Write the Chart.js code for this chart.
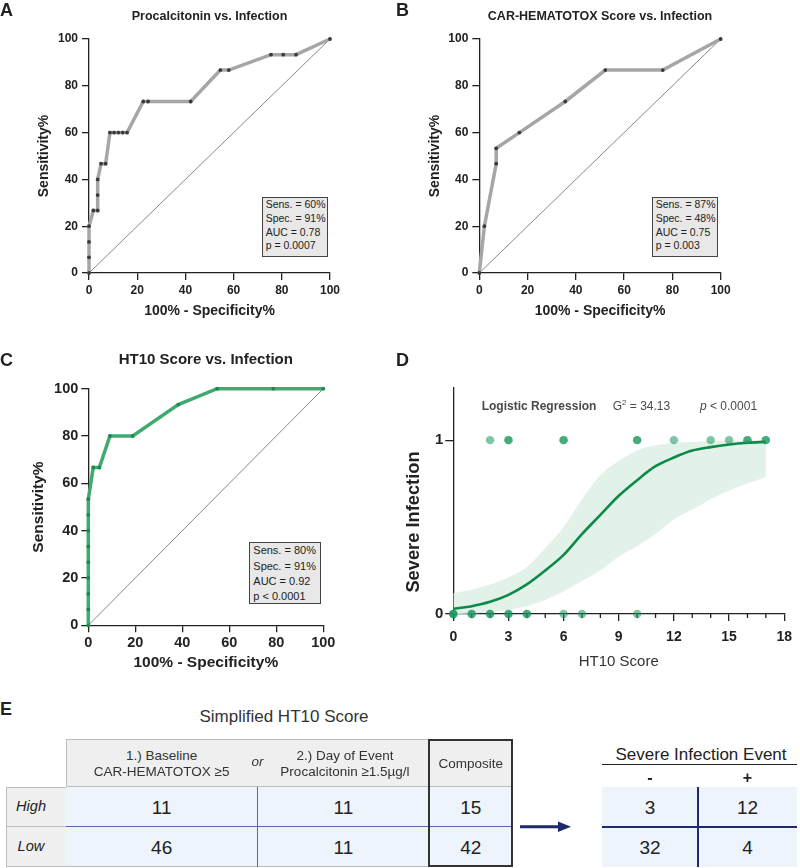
<!DOCTYPE html>
<html><head><meta charset="utf-8">
<script src="https://cdn.jsdelivr.net/npm/chart.js@4.4.1/dist/chart.umd.min.js"></script>
<style>
html,body{margin:0;padding:0;background:#fff;}
body{width:800px;height:868px;position:relative;overflow:hidden;font-family:'Liberation Sans',Arial,Helvetica,sans-serif;color:#222;}
.box{position:absolute;}
canvas{display:block;}
.lett{position:absolute;font-weight:bold;font-size:18px;line-height:18px;}
.stat{position:absolute;background:#e8e8e8;border:1.5px solid #444;box-sizing:border-box;color:#222;white-space:nowrap;padding-left:3px;}
.t{position:absolute;white-space:nowrap;line-height:1;transform:translate(-50%,-50%);}
.cell{position:absolute;box-sizing:border-box;}
</style>
</head>
<body>
<div class="box" style="left:0;top:0;width:400px;height:320px;"><canvas id="cA" width="400" height="320"></canvas></div>
<div class="box" style="left:400px;top:0;width:400px;height:320px;"><canvas id="cB" width="400" height="320"></canvas></div>
<div class="box" style="left:0;top:320px;width:400px;height:353px;"><canvas id="cC" width="400" height="353"></canvas></div>
<div class="box" style="left:400px;top:320px;width:400px;height:353px;"><canvas id="cD" width="400" height="353"></canvas></div>
<div id="overlay"></div>
<script>
// ---------- DATA ----------
const rocAx = [0,0,0,0,1.8,3.6,3.6,3.6,5,6.9,8.7,10.4,12.2,14,15.8,22.5,24.5,42.2,54.5,58,75.5,80.6,85.9,100];
const rocAy = [0,6.7,13.3,20,26.7,26.7,33.3,40,46.7,46.7,60,60,60,60,60,73.3,73.3,73.3,86.7,86.7,93.3,93.3,93.3,100];
const rocBx = [0,2.1,7,7,16.6,35.6,52.2,76,100];
const rocBy = [0,20,46.7,53.3,60,73.3,86.7,86.7,100];
const rocCx = [0,0,0,0,0,0,0,0,0,2.1,4.7,9.2,18.9,38.3,54.8,78.7,100];
const rocCy = [0,6.7,13.3,20,26.7,33.3,40,46.7,53.3,66.7,66.7,80,80,93.3,100,100,100];
const diagX = [0,100];
const diagY = [0,100];
const rocTicks = [0,20,40,60,80,100];
const statsA = ['Sens. = 60%','Spec. = 91%','AUC = 0.78','p = 0.0007'];
const statsB = ['Sens. = 87%','Spec. = 48%','AUC = 0.75','p = 0.003'];
const statsC = ['Sens. = 80%','Spec. = 91%','AUC = 0.92','p < 0.0001'];
const titles = ['Procalcitonin vs. Infection','CAR-HEMATOTOX Score vs. Infection','HT10 Score vs. Infection'];

// Panel D: logistic regression
const ht10Ones  = [2,3,3,6,6,10,10,12,14,15,16,16,17,17];   // events (y = 1); repeats = overlapping patients
const ht10Zeros = [0,0,0,1,1,2,2,3,3,4,4,6,7,10];          // no event (y = 0)
const fitX     = [0,1,2,3,4,5,6,7,8,9,10,11,12,13,14,15,16,17];
const fitY     = [0.03,0.045,0.07,0.11,0.17,0.25,0.34,0.46,0.57,0.68,0.77,0.85,0.90,0.94,0.96,0.975,0.985,0.99];
const ciUpper  = [0.12,0.14,0.17,0.21,0.27,0.38,0.50,0.66,0.80,0.88,0.94,0.97,0.985,0.99,0.995,0.997,0.998,0.999];
const ciLower  = [0,0.003,0.01,0.025,0.045,0.08,0.13,0.19,0.25,0.33,0.39,0.46,0.545,0.60,0.66,0.71,0.75,0.79];
const dTicksX  = [0,3,6,9,12,15,18];
const dTicksY  = [0,1];

// Panel E tables
const tblHeaders = [['1.) Baseline','CAR-HEMATOTOX ≥5'],['2.) Day of Event','Procalcitonin ≥1.5µg/l'],['Composite']];
const tblRows = ['High','Low'];
const tblVals = [[11,11,15],[46,11,42]];
const evtHeaders = ['-','+'];
const evtVals = [[3,12],[32,4]];

// ---------- CHARTS ----------
Chart.defaults.font.family = "'Liberation Sans', Arial, Helvetica, sans-serif";
Chart.defaults.color = '#222';

function pts(xs, ys){ return xs.map((x,i)=>({x:x,y:ys[i]})); }

function rocChart(id, xs, ys, o){
  return new Chart(document.getElementById(id), {
    type:'scatter',
    data:{datasets:[
      {data:pts(xs,ys), showLine:true, borderColor:o.line, borderWidth:3.5, pointRadius:1.9, pointHoverRadius:1.9,
       pointBackgroundColor:o.dot, pointBorderWidth:0, tension:0, clip:false},
      {data:pts(diagX,diagY), showLine:true, borderColor:'#555', borderWidth:0.7, pointRadius:0, tension:0}
    ]},
    options:{
      responsive:false, animation:false, events:[],
      layout:{padding:o.pad},
      plugins:{legend:{display:false}, tooltip:{enabled:false},
        title:{display:true, text:o.title, font:{size:o.titleSize, weight:'bold'}, color:'#222', padding:o.titlePad, fullSize:false}},
      scales:{
        x:{type:'linear', min:0, max:100,
           afterBuildTicks:s=>{s.ticks=rocTicks.map(v=>({value:v}));},
           ticks:{font:{size:o.tick, weight:'bold'}, color:'#222', padding:o.xTickPad, maxRotation:0},
           grid:{drawOnChartArea:false, tickLength:7, color:'#222', lineWidth:1.3},
           border:{color:'#222', width:1.3},
           title:{display:true, text:'100% - Specificity%', font:{size:o.axT, weight:'bold'}, color:'#222', padding:0},
           afterFit:s=>{s.height=o.xH;}},
        y:{type:'linear', min:0, max:100,
           afterBuildTicks:s=>{s.ticks=rocTicks.map(v=>({value:v}));},
           ticks:{font:{size:o.tick, weight:'bold'}, color:'#222', padding:o.yTickPad},
           grid:{drawOnChartArea:false, tickLength:7, color:'#222', lineWidth:1.3},
           border:{color:'#222', width:1.3},
           title:{display:true, text:'Sensitivity%', font:{size:o.axT, weight:'bold'}, color:'#222', padding:0},
           afterFit:s=>{s.width=o.yW;}}
      }
    }
  });
}

rocChart('cA', rocAx, rocAy, {line:'#a6a6a6', dot:'#3a3a3a', title:titles[0], titleSize:12.5, titlePad:{top:9,bottom:15},
  pad:{left:36,right:70,top:0,bottom:0}, yW:53, xH:47, tick:12, axT:14, xTickPad:3, yTickPad:4});
rocChart('cB', rocBx, rocBy, {line:'#a6a6a6', dot:'#3a3a3a', title:titles[1], titleSize:12.5, titlePad:{top:9,bottom:15},
  pad:{left:26.3,right:79.3,top:0,bottom:0}, yW:53, xH:47, tick:12, axT:14, xTickPad:3, yTickPad:4});
rocChart('cC', rocCx, rocCy, {line:'#3fab70', dot:'#1b8a4d', title:titles[2], titleSize:15, titlePad:{top:31,bottom:19.7},
  pad:{left:29.5,right:76.7,top:0,bottom:0.7}, yW:58.8, xH:47, tick:14.5, axT:15.5, xTickPad:2, yTickPad:3});

const minorTicks = {id:'minorTicks', beforeDatasetsDraw(chart){
  const s = chart.scales.x, ctx = chart.ctx;
  ctx.save(); ctx.strokeStyle='#222'; ctx.lineWidth=1.3;
  for(let v=Math.ceil(s.min); v<=s.max; v++){
    if(dTicksX.indexOf(v)>=0) continue;
    const px = s.getPixelForValue(v);
    ctx.beginPath(); ctx.moveTo(px, s.top); ctx.lineTo(px, s.top+4); ctx.stroke();
  }
  ctx.restore();
}};

new Chart(document.getElementById('cD'), {
  type:'scatter',
  data:{datasets:[
    {data:ht10Ones.map(x=>({x:x,y:1})), pointRadius:4.2, pointHoverRadius:4.2, pointBackgroundColor:'rgba(22,150,92,0.55)', pointBorderWidth:0, showLine:false, clip:false},
    {data:ht10Zeros.map(x=>({x:x,y:0})), pointRadius:4.2, pointHoverRadius:4.2, pointBackgroundColor:'rgba(22,150,92,0.55)', pointBorderWidth:0, showLine:false, clip:false},
    {data:pts(fitX,fitY), showLine:true, borderColor:'#0c8a4a', borderWidth:2.6, pointRadius:0, cubicInterpolationMode:'monotone'},
    {data:pts(fitX,ciUpper), showLine:true, borderWidth:0, borderColor:'rgba(0,0,0,0)', pointRadius:0, cubicInterpolationMode:'monotone', fill:'+1', backgroundColor:'#e3f2e9'},
    {data:pts(fitX,ciLower), showLine:true, borderWidth:0, borderColor:'rgba(0,0,0,0)', pointRadius:0, cubicInterpolationMode:'monotone'}
  ]},
  options:{
    responsive:false, animation:false, events:[],
    layout:{padding:{left:23.3,right:9.5,top:68,bottom:1.7}},
    plugins:{legend:{display:false}, tooltip:{enabled:false}},
    scales:{
      x:{type:'linear', min:0, max:18,
         afterBuildTicks:s=>{s.ticks=dTicksX.map(v=>({value:v}));},
         ticks:{font:{size:14, weight:'bold'}, color:'#222', padding:8, maxRotation:0},
         grid:{drawOnChartArea:false, tickLength:7, color:'#222', lineWidth:1.3},
         border:{color:'#222', width:1.3},
         title:{display:true, text:'HT10 Score', font:{size:15, weight:'normal'}, color:'#333', padding:0},
         afterFit:s=>{s.height=57.3;}},
      y:{type:'linear', min:0, max:1.3,
         afterBuildTicks:s=>{s.ticks=dTicksY.map(v=>({value:v}));},
         ticks:{font:{size:15, weight:'bold'}, color:'#222', padding:2},
         grid:{drawOnChartArea:false, tickLength:8, color:'#222', lineWidth:1.3},
         border:{color:'#222', width:1.3},
         afterFit:s=>{s.width=30;}}
    }
  },
  plugins:[minorTicks]
});

// ---------- OVERLAY TEXT / TABLES ----------
const ov = document.getElementById('overlay');
function add(html){ ov.insertAdjacentHTML('beforeend', html); }

// panel letters
[['A',0,1],['B',396,1],['C',0,351],['D',396,351],['E',0,700]].forEach(l=>{
  add(`<div class="lett" style="left:${l[1]}px;top:${l[2]}px;">${l[0]}</div>`);
});

// stat boxes
function statBox(lines, left, top, w, h, fs, lh){
  add(`<div class="stat" style="left:${left}px;top:${top}px;width:${w}px;height:${h}px;font-size:${fs}px;line-height:${lh}px;">${lines.join('<br>')}</div>`);
}
statBox(statsA, 261.7, 196.7, 66.6, 60, 10.5, 13.9);
statBox(statsB, 651.7, 196.7, 66, 60, 10.5, 13.9);
statBox(statsC, 249.3, 542.3, 71.7, 62, 11, 15.3);

// panel D labels
add(`<div class="t" style="left:413px;top:522px;font-weight:bold;font-size:18.3px;transform:translate(-50%,-50%) rotate(-90deg);">Severe Infection</div>`);
add(`<div style="position:absolute;left:481.7px;top:399px;font-size:12px;line-height:14px;font-weight:bold;color:#4a4a4a;white-space:nowrap;">Logistic Regression</div>`);
add(`<div style="position:absolute;left:612.7px;top:399px;font-size:12px;line-height:14px;color:#4a4a4a;white-space:nowrap;">G<sup style="font-size:8px;line-height:0;">2</sup> = 34.13</div>`);
add(`<div style="position:absolute;left:700px;top:399px;font-size:12px;line-height:14px;color:#4a4a4a;white-space:nowrap;"><i>p</i> &lt; 0.0001</div>`);

// Panel E - left table
add(`<div class="t" style="left:284px;top:716px;font-size:17px;color:#333;">Simplified HT10 Score</div>`);
const colX = [65.7, 257.7, 429, 512.7];
const rowY = [739.3, 786.7, 826, 866.7];
// header background (cols 1-2) and composite header
add(`<div class="cell" style="left:${colX[0]}px;top:${rowY[0]}px;width:${colX[2]-colX[0]}px;height:${rowY[1]-rowY[0]}px;background:#efefef;border:1px solid #bdbdbd;"></div>`);
add(`<div class="cell" style="left:${colX[2]}px;top:${rowY[0]}px;width:${colX[3]-colX[2]}px;height:${rowY[1]-rowY[0]}px;background:#efefef;"></div>`);
// row label cells
tblRows.forEach((r,i)=>{
  add(`<div class="cell" style="left:6px;top:${rowY[i+1]}px;width:${colX[0]-6+1}px;height:${rowY[i+2]-rowY[i+1]+(i==1?0:1)}px;background:#f0f0f0;border:1px solid #bdbdbd;"></div>`);
  add(`<div class="t" style="left:31px;top:${(rowY[i+1]+rowY[i+2])/2}px;font-size:14.6px;font-style:italic;">${r}</div>`);
});
// data cells background
add(`<div class="cell" style="left:${colX[0]}px;top:${rowY[1]}px;width:${colX[3]-colX[0]}px;height:${rowY[3]-rowY[1]}px;background:#eef4fb;border-bottom:1px solid #bdbdbd;border-right:1px solid #bdbdbd;"></div>`);
// navy dividers
add(`<div class="cell" style="left:${colX[0]}px;top:${rowY[2]-0.5}px;width:${colX[3]-colX[0]}px;height:1px;background:#5c66a8;"></div>`);
add(`<div class="cell" style="left:${colX[1]-0.5}px;top:${rowY[1]}px;width:1px;height:${rowY[3]-rowY[1]}px;background:#5c66a8;"></div>`);
add(`<div class="cell" style="left:${colX[2]-0.5}px;top:${rowY[1]}px;width:1px;height:${rowY[3]-rowY[1]}px;background:#5c66a8;"></div>`);
// header row separator
add(`<div class="cell" style="left:${colX[0]}px;top:${rowY[1]-0.5}px;width:${colX[3]-colX[0]}px;height:1px;background:#bdbdbd;"></div>`);
// header texts
tblHeaders.forEach((h,j)=>{
  const cx = j==1 ? 345 : (colX[j]+colX[j+1])/2;
  if(h.length==2){
    add(`<div class="t" style="left:${cx}px;top:756px;font-size:13.5px;color:#333;">${h[0]}</div>`);
    add(`<div class="t" style="left:${cx}px;top:771.7px;font-size:13.5px;color:#333;">${h[1]}</div>`);
  } else {
    add(`<div class="t" style="left:${cx}px;top:763.5px;font-size:13.5px;color:#333;">${h[0]}</div>`);
  }
});
add(`<div class="t" style="left:257.5px;top:762px;font-size:13.5px;font-style:italic;color:#333;">or</div>`);
// values
tblVals.forEach((row,i)=>{
  row.forEach((v,j)=>{
    add(`<div class="t" style="left:${(colX[j]+colX[j+1])/2}px;top:${(rowY[i+1]+rowY[i+2])/2+0.5}px;font-size:19px;">${v}</div>`);
  });
});
// composite thick frame
add(`<div class="cell" style="left:${colX[2]-1}px;top:${rowY[0]}px;width:${colX[3]-colX[2]+1}px;height:${rowY[3]-rowY[0]}px;border:2px solid #333;"></div>`);

// arrow
add(`<svg style="position:absolute;left:518px;top:818px;" width="56" height="18"><line x1="2" y1="8.7" x2="44" y2="8.7" stroke="#1f2a6b" stroke-width="3"/><polygon points="40,3.5 53,8.7 40,13.9" fill="#1f2a6b"/></svg>`);

// right table
const ex = [601.7, 698.3, 796.7];
const ey = [786.7, 826.7, 866.7];
add(`<div class="t" style="left:701px;top:753.5px;font-size:17px;color:#222;">Severe Infection Event</div>`);
add(`<div class="cell" style="left:${ex[0]}px;top:763.6px;width:${ex[2]-ex[0]}px;height:1.4px;background:#222;"></div>`);
evtHeaders.forEach((h,j)=>{
  add(`<div class="t" style="left:${(ex[j]+ex[j+1])/2}px;top:777.5px;font-size:16px;font-weight:bold;">${h}</div>`);
});
add(`<div class="cell" style="left:${ex[0]}px;top:${ey[0]}px;width:${ex[2]-ex[0]}px;height:${ey[2]-ey[0]}px;background:#eef4fb;"></div>`);
add(`<div class="cell" style="left:${ex[0]}px;top:${ey[1]-1}px;width:${ex[2]-ex[0]}px;height:2px;background:#1f2a6b;"></div>`);
add(`<div class="cell" style="left:${ex[1]-1}px;top:${ey[0]}px;width:2px;height:${ey[2]-ey[0]}px;background:#1f2a6b;"></div>`);
evtVals.forEach((row,i)=>{
  row.forEach((v,j)=>{
    add(`<div class="t" style="left:${(ex[j]+ex[j+1])/2}px;top:${(ey[i]+ey[i+1])/2+0.5}px;font-size:19px;">${v}</div>`);
  });
});
</script>
</body></html>
